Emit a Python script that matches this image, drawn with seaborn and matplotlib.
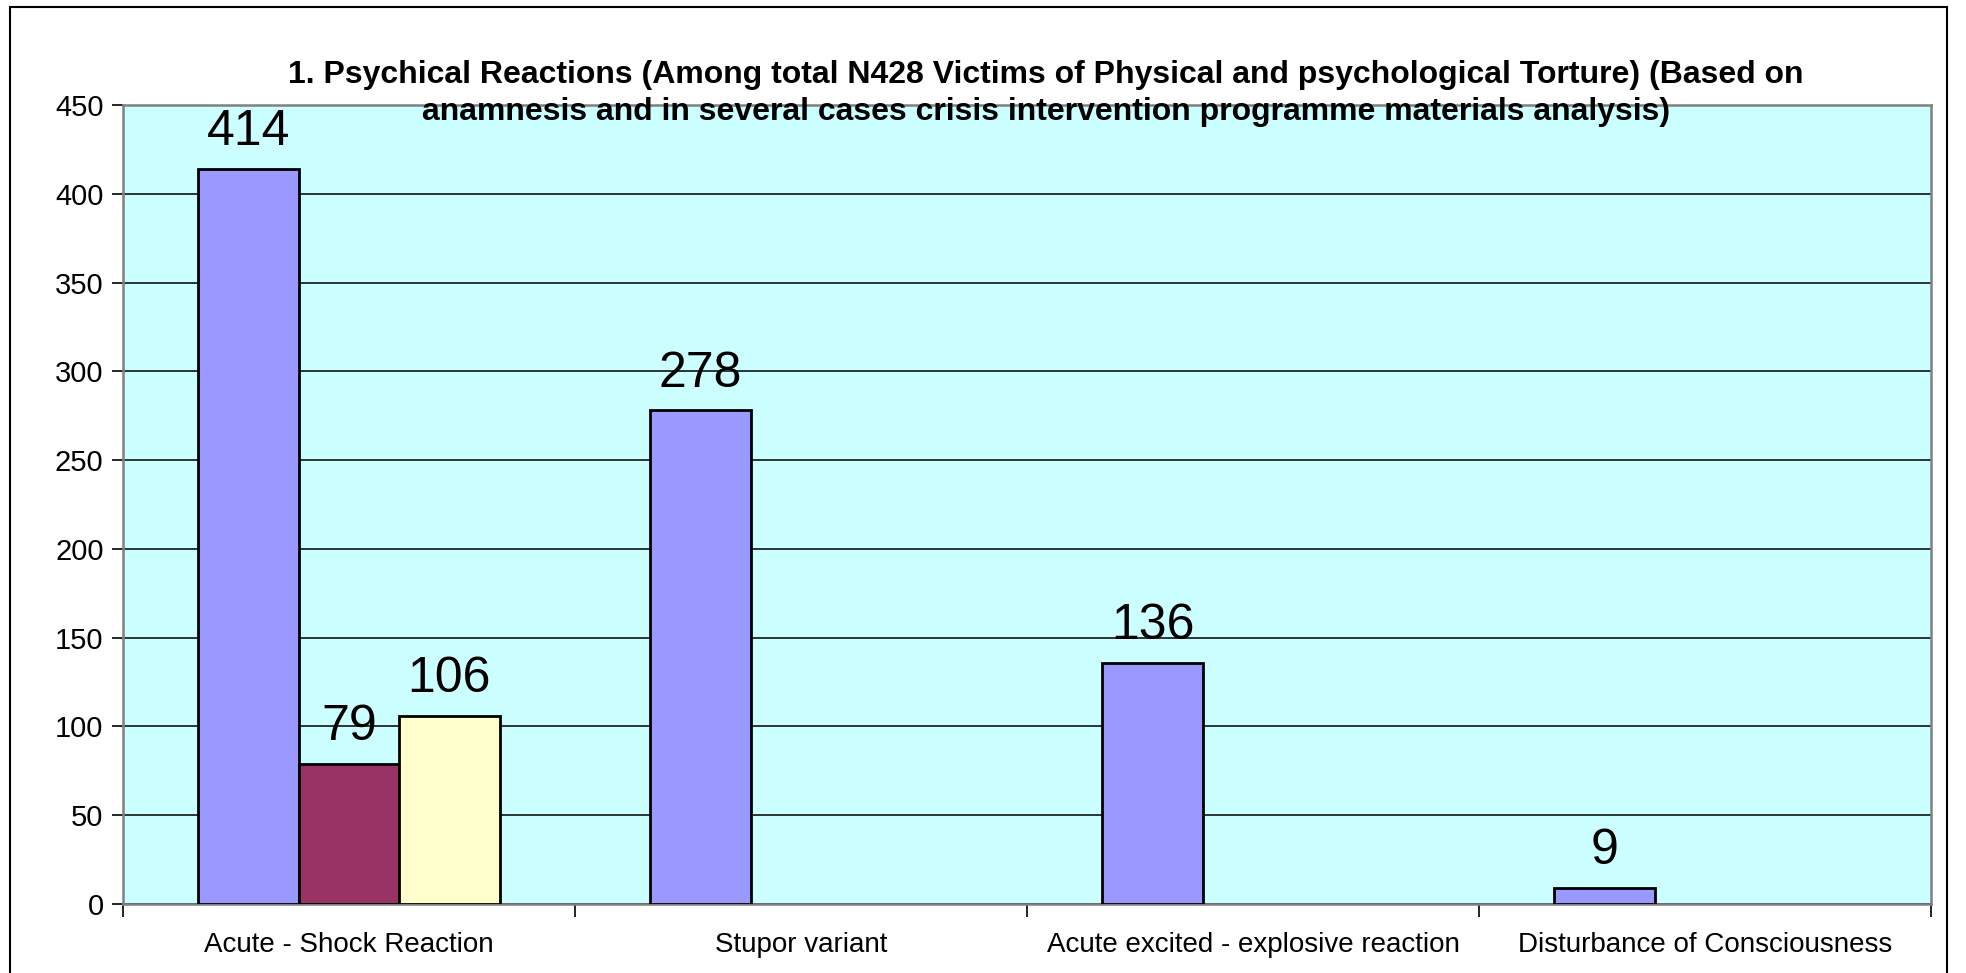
import matplotlib
matplotlib.use("Agg")
import matplotlib.pyplot as plt
import seaborn as sns
import pandas as pd
from matplotlib.patches import Rectangle

categories = ["Acute - Shock Reaction", "Stupor variant",
              "Acute excited - explosive reaction", "Disturbance of Consciousness"]
series_names = ["Series 1", "Series 2", "Series 3"]
series1 = [414, 278, 136, 9]
series2 = [79, None, None, None]
series3 = [106, None, None, None]
colors = ["#9999FF", "#993366", "#FFFFCC"]
yticks = [0, 50, 100, 150, 200, 250, 300, 350, 400, 450]
title = ("1. Psychical Reactions (Among total N428 Victims of Physical and psychological Torture) (Based on\n"
         "anamnesis and in several cases crisis intervention programme materials analysis)")

rows = []
for name, vals in zip(series_names, [series1, series2, series3]):
    for c, v in zip(categories, vals):
        if v is not None:
            rows.append({"category": c, "series": name, "value": v})
df = pd.DataFrame(rows)

sns.set_theme(style="white")
plt.rcParams["font.family"] = ["Liberation Sans", "DejaVu Sans"]
plt.rcParams["text.color"] = "black"
plt.rcParams["xtick.color"] = "black"
plt.rcParams["ytick.color"] = "black"
plt.rcParams["axes.labelcolor"] = "black"

fig = plt.figure(figsize=(19.66, 9.73), dpi=100)
ax = fig.add_axes([123 / 1966, 1 - 904 / 973, (1931 - 123) / 1966, (904 - 105) / 973])
ax.set_facecolor("#CCFFFF")

sns.barplot(data=df, x="category", y="value", hue="series", order=categories,
            hue_order=series_names, palette=colors, width=0.667, gap=0,
            edgecolor="black", linewidth=2, saturation=1, legend=False, ax=ax, zorder=3)

for cont in ax.containers:
    ax.bar_label(cont, fmt="%d", padding=10, fontsize=36, color="black", zorder=4)

ax.set_ylim(0, 450)
ax.set_xlim(-0.5, len(categories) - 0.5)
ax.set_yticks(yticks)
ax.set_yticklabels([str(t) for t in yticks], fontsize=21)
ax.yaxis.grid(True, color="black", linewidth=1.1, zorder=0)
ax.set_axisbelow(True)
ax.set_xticks([i for i in range(len(categories))])
ax.set_xticklabels(categories, fontsize=20)
ax.tick_params(axis="x", length=0, pad=20)
ax.tick_params(axis="y", length=8, width=1.2, color="black", left=True, pad=6)
ax.set_xticks([i - 0.5 for i in range(len(categories) + 1)], minor=True)
ax.tick_params(axis="x", which="minor", length=9, width=1.2, color="black", bottom=True)
ax.set_xlabel("")
ax.set_ylabel("")
for s in ax.spines.values():
    s.set_color("#808080")
    s.set_linewidth(1.8)
    s.set_visible(True)

fig.text(1046 / 1966, 1 - 60 / 973, title, ha="center", va="top", color="black",
         fontsize=23, fontweight="bold", linespacing=1.3)

fig.patches.append(Rectangle((10 / 1966, -0.05), (1947 - 10) / 1966, 1 - 7 / 973 + 0.05,
                             transform=fig.transFigure, fill=False, edgecolor="black",
                             linewidth=1.5, clip_on=False))

fig.savefig("out.png", dpi=100)
